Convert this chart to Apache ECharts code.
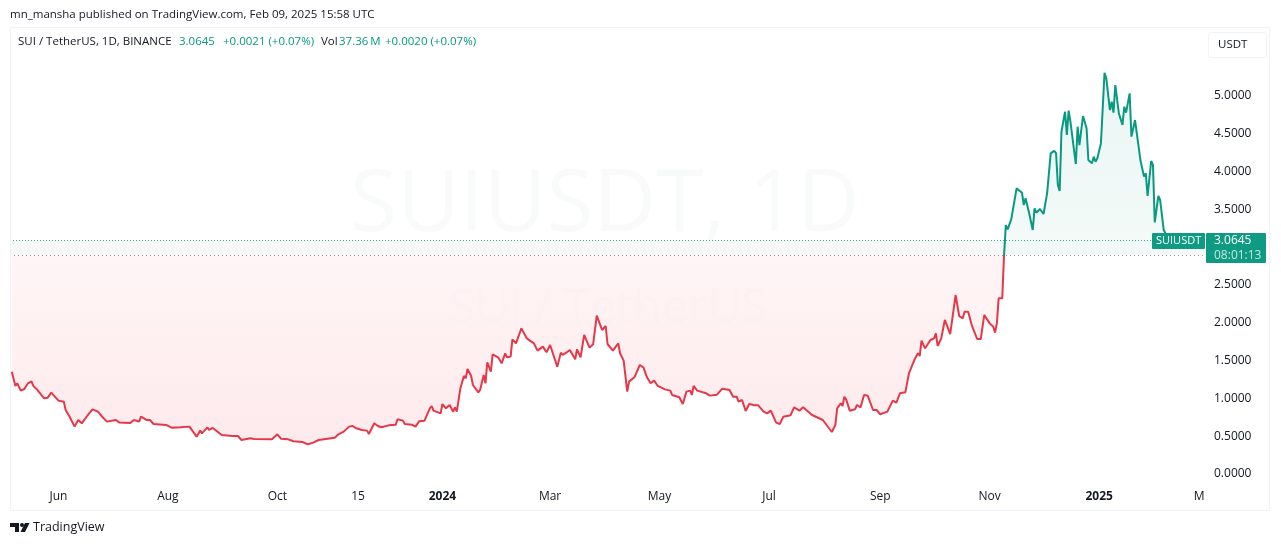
<!DOCTYPE html>
<html>
<head>
<meta charset="utf-8">
<title>SUIUSDT 1D</title>
<script src="https://cdn.jsdelivr.net/npm/echarts@6/dist/echarts.min.js"></script>
<style>
  html, body { margin: 0; padding: 0; background: #fff; }
  #chart { width: 1281px; height: 545px; }
</style>
</head>
<body>
<div id="chart"></div>
<script>
// x axis is in days counted from the left edge of the chart (2023-05-05)
const firstDay = Date.UTC(2023, 4, 5);
const lastDay = '2025-03-01';

const redDays = [
  1, 3, 4, 6, 8, 10, 12, 13, 15, 19, 21, 23, 27, 30, 31, 33, 34, 36, 38, 40,
  43, 44, 46, 49, 51, 54, 59, 61, 67, 69, 72, 73, 76, 78, 80, 87, 90, 95, 100, 104,
  106, 107, 110, 111, 113, 118, 124, 127, 129, 134, 136, 146, 149, 151, 155, 158, 163, 166, 169, 172,
  176, 177, 181, 183, 186, 189, 191, 193, 194, 196, 199, 200, 203, 205, 207, 211, 215, 216, 219, 220,
  224, 226, 228, 231, 232, 234,
  235, 236, 240, 241, 243, 245, 247, 248, 249, 251, 253, 254, 255, 257, 258, 261, 262, 264, 265, 266,
  268, 269, 272, 274, 276, 277, 279, 280, 282, 285, 288, 289, 292, 293, 294, 297, 299, 301, 305, 307,
  308, 310, 312, 315, 316, 318, 320, 323, 325, 327, 330, 332, 333, 336, 339, 340, 342, 344, 345, 346,
  348, 349, 351, 353, 355, 357, 359, 361, 365, 368, 369, 373, 375, 377, 379, 380, 381, 383, 388, 390,
  394, 397, 401, 403, 405, 406, 408, 410, 412, 415, 417, 420, 422, 424, 427, 428, 429, 431, 435, 437,
  440, 442, 447, 448, 453, 458, 460, 461, 463, 464, 465, 466, 468, 471, 472, 474,
  476, 478, 481, 483, 485, 489, 492, 494, 496, 499, 501, 504, 506, 507, 508, 510, 513, 515, 516, 517,
  519, 521, 524, 527, 529, 531, 532, 534, 536, 537, 539, 541, 543, 544, 546, 548, 549, 550, 551, 553, 554
];
const redCloses = [
  1.327, 1.138, 1.173, 1.076, 1.098, 1.173, 1.199, 1.138, 1.093, 0.974, 0.983, 1.049, 0.944, 0.930, 0.820, 0.741, 0.723, 0.600, 0.688, 0.644,
  0.741, 0.723, 0.829, 0.798, 0.741, 0.666, 0.688, 0.653, 0.648, 0.688, 0.666, 0.732, 0.688, 0.688, 0.635, 0.622, 0.586, 0.591, 0.600, 0.467,
  0.547, 0.511, 0.591, 0.556, 0.582, 0.489, 0.476, 0.476, 0.423, 0.445, 0.437, 0.432, 0.498, 0.441, 0.432, 0.406, 0.397, 0.366, 0.388, 0.423,
  0.437, 0.459, 0.454, 0.498, 0.534, 0.600, 0.608, 0.578, 0.600, 0.556, 0.547, 0.503, 0.644, 0.608, 0.591, 0.617, 0.626, 0.697, 0.679, 0.635,
  0.626, 0.600, 0.670, 0.679, 0.732, 0.842,
  0.873, 0.811, 0.776, 0.899, 0.842, 0.886, 0.798, 0.855, 0.798, 1.107, 1.270, 1.239, 1.362, 1.270, 1.151, 1.054, 1.085, 1.283, 1.173, 1.451,
  1.327, 1.556, 1.517, 1.437, 1.570, 1.517, 1.526, 1.755, 1.702, 1.900, 1.768, 1.790, 1.702, 1.702, 1.605, 1.658, 1.583, 1.680, 1.393, 1.578,
  1.548, 1.578, 1.614, 1.490, 1.623, 1.517, 1.812, 1.645, 1.689, 2.068, 1.878, 1.931, 1.693, 1.605, 1.702, 1.570, 1.473, 1.063, 1.195, 1.173,
  1.252, 1.261, 1.415, 1.384, 1.252, 1.173, 1.208, 1.138, 1.093, 1.076, 1.019, 0.988, 0.899, 1.063, 1.076, 1.019, 1.138, 1.076, 1.041, 1.010,
  1.023, 1.102, 1.085, 0.996, 0.996, 0.930, 0.952, 0.807, 0.899, 0.882, 0.882, 0.798, 0.776, 0.811, 0.653, 0.666, 0.635, 0.732, 0.750, 0.855,
  0.811, 0.855, 0.754, 0.776, 0.688, 0.529, 0.622, 0.842, 0.908, 0.873, 0.996, 0.961, 0.811, 0.829, 0.886, 0.855,
  1.019, 1.010, 0.820, 0.820, 0.763, 0.798, 0.944, 0.917, 1.041, 1.054, 1.305, 1.481, 1.570, 1.534, 1.737, 1.636, 1.746, 1.768, 1.834, 1.667,
  1.768, 2.011, 1.825, 2.341, 2.063, 2.033, 2.121, 2.121, 1.944, 1.966, 1.759, 1.759, 2.077, 2.063, 1.966, 1.922, 1.843, 1.966, 2.297, 2.297, 2.87
];

const greenDays = [
  554, 555, 556, 558, 561, 562, 564, 565, 566, 568, 570, 571, 572, 574, 576, 578, 579, 580, 582, 583,
  584, 585, 586, 588, 589, 590, 591, 592, 594, 595, 596, 598, 600, 601, 603, 604, 605, 606, 608, 610,
  611, 613, 614, 615, 616, 618, 620, 621, 622, 624, 625, 627, 629, 630, 632, 633, 634, 636, 637, 638,
  640, 641, 643, 646
];
const greenCloses = [
  2.87, 3.267, 3.210, 3.342, 3.752, 3.774, 3.695, 3.532, 3.620, 3.422, 3.201, 3.488, 3.430, 3.479, 3.413, 3.686, 3.695, 4.215, 4.250, 4.215,
  3.796, 3.717, 4.501, 4.766, 4.458, 4.780, 4.634, 4.612, 4.074, 4.568, 4.325, 4.709, 4.546, 4.127, 4.083, 4.171, 4.105, 4.149, 4.347, 5.282,
  5.207, 4.788, 4.898, 4.753, 5.119, 4.744, 4.590, 4.832, 4.753, 5.009, 4.436, 4.656, 4.303, 4.127, 3.907, 3.951, 3.651, 4.114, 4.061, 3.302,
  3.651, 3.598, 3.201, 3.0645
];

const baseValue = 2.87;
const lastClose = 3.0645;

const priceTicks = [0, 0.5, 1, 1.5, 2, 2.5, 3.5, 4, 4.5, 5];
const timeTickDates = ['2023-06-01', '2023-08-01', '2023-10-01', '2023-11-15', '2024-01-01', '2024-03-01',
  '2024-05-01', '2024-07-01', '2024-09-01', '2024-11-01', '2025-01-01', '2025-03-01'];
const timeTickLabels = ['Jun', 'Aug', 'Oct', '15', '2024', 'Mar', 'May', 'Jul', 'Sep', 'Nov', '2025', 'Mar'];

const fontName = '"Open Sans", sans-serif';
const textColor = '#131722';
const greenColor = '#089981';
const redColor = '#e5384a';

function dayOf(dateText) {
  return Math.round((Date.parse(dateText) - firstDay) / 86400000);
}

function toPoints(days, closes) {
  return days.map((d, i) => [d, closes[i]]);
}

const tickDays = timeTickDates.map(dayOf);

function label(x, y, text, color, size, z) {
  return {
    type: 'text', x: x, y: y, z: z || 60, silent: true,
    style: { text: text, fill: color, font: size + 'px ' + fontName, textVerticalAlign: 'middle' }
  };
}

const chart = echarts.init(document.getElementById('chart'), null, { renderer: 'canvas' });

chart.setOption({
  animation: false,
  backgroundColor: '#ffffff',
  grid: { left: 10, top: 34, width: 1195, height: 450 },
  xAxis: {
    type: 'value',
    min: 0,
    max: dayOf(lastDay),
    axisLine: { show: false },
    axisTick: { show: false },
    splitLine: { show: false },
    axisLabel: {
      customValues: tickDays,
      hideOverlap: false,
      margin: 7,
      color: textColor,
      fontFamily: fontName,
      fontSize: 12,
      formatter: function (value) {
        const text = timeTickLabels[tickDays.indexOf(value)];
        return text === '2024' || text === '2025' ? '{year|' + text + '}' : text;
      },
      rich: { year: { fontWeight: 'bold', fontFamily: fontName, fontSize: 12, color: textColor } }
    }
  },
  yAxis: {
    type: 'value',
    position: 'right',
    min: -0.159,
    max: 5.794,
    axisLine: { show: false },
    axisTick: { show: false },
    splitLine: { show: false },
    axisLabel: {
      customValues: priceTicks,
      margin: 9,
      color: textColor,
      fontFamily: fontName,
      fontSize: 12,
      formatter: v => '{price|' + v.toFixed(4) + '}',
      rich: { price: { fontFamily: fontName, fontSize: 12, color: textColor, padding: [4, 0, 0, 0] } }
    }
  },
  series: [
    {
      name: 'below base',
      type: 'line',
      data: toPoints(redDays, redCloses),
      showSymbol: false,
      lineStyle: { color: redColor, width: 2 },
      itemStyle: { color: redColor },
      areaStyle: {
        origin: baseValue,
        color: new echarts.graphic.LinearGradient(0, 0, 0, 1, [
          { offset: 0, color: '#fff1f2' },
          { offset: 1, color: '#fde1e4' }
        ])
      },
      markArea: {
        silent: true,
        itemStyle: { color: '#f7f9f9' },
        data: [[{ yAxis: baseValue }, { yAxis: lastClose }]]
      },
      z: 3
    },
    {
      name: 'above base',
      type: 'line',
      data: toPoints(greenDays, greenCloses),
      showSymbol: false,
      lineStyle: { color: greenColor, width: 2 },
      itemStyle: { color: greenColor },
      areaStyle: {
        origin: baseValue,
        color: new echarts.graphic.LinearGradient(0, 0, 0, 1, [
          { offset: 0, color: '#e0f2ee' },
          { offset: 1, color: '#eff8f6' }
        ])
      },
      markLine: {
        silent: true,
        symbol: 'none',
        label: { show: false },
        data: [
          { yAxis: lastClose, lineStyle: { color: greenColor, type: [1, 2], width: 1, opacity: 0.8 } },
          { yAxis: baseValue, lineStyle: { color: '#9598a1', type: [1, 3], width: 1 } }
        ]
      },
      z: 4
    }
  ],
  graphic: [
    // watermark
    label(350, 206, 'SUIUSDT, 1D', 'rgba(19,23,34,0.025)', 86, 1),
    label(449, 310, 'SUI / TetherUS', 'rgba(19,23,34,0.025)', 47, 1),
    // hides the part of the last time label under the price scale
    { type: 'rect', z: 50, silent: true, shape: { x: 1205, y: 485, width: 64, height: 24 }, style: { fill: '#ffffff' } },
    // frame
    { type: 'rect', z: 51, silent: true, shape: { x: 10.5, y: 27.5, width: 1259, height: 483 }, style: { fill: 'none', stroke: '#f0f3fa' } },
    { type: 'rect', z: 51, silent: true, shape: { x: 1208.5, y: 32.5, width: 58, height: 25, r: 2 }, style: { fill: '#fff', stroke: '#f0f3fa' } },
    label(1218, 45, 'USDT', textColor, 11.5),
    // header
    label(10, 15, 'mn_mansha published on TradingView.com, Feb 09, 2025 15:58 UTC', textColor, 11.5),
    label(18, 42, 'SUI / TetherUS, 1D, BINANCE', textColor, 11.5),
    label(179, 42, '3.0645', greenColor, 11.5),
    label(223, 42, '+0.0021 (+0.07%)', greenColor, 11.5),
    label(321, 42, 'Vol', textColor, 11.5),
    label(339, 42, '37.36\u2009M', greenColor, 11.5),
    label(385, 42, '+0.0020 (+0.07%)', greenColor, 11.5),
    // last price tags
    { type: 'rect', z: 55, silent: true, shape: { x: 1152, y: 233, width: 53, height: 16, r: 1 }, style: { fill: '#0e9a83' } },
    { type: 'rect', z: 55, silent: true, shape: { x: 1206, y: 233, width: 60, height: 30, r: 1 }, style: { fill: '#0e9a83' } },
    label(1156, 241, 'SUIUSDT', '#ffffff', 11),
    label(1214, 241, '3.0645', '#ffffff', 12),
    label(1214, 256, '08:01:13', '#c5e8e1', 12),
    // footer logo
    { type: 'polygon', z: 60, silent: true, shape: { points: [[10, 523], [19, 523], [19, 532], [15, 532], [15, 527], [10, 527]] }, style: { fill: textColor } },
    { type: 'circle', z: 60, silent: true, shape: { cx: 22, cy: 525, r: 2 }, style: { fill: textColor } },
    { type: 'polygon', z: 60, silent: true, shape: { points: [[25, 523], [29.5, 523], [25, 532], [20.5, 532]] }, style: { fill: textColor } },
    label(33, 527, 'TradingView', textColor, 12.5)
  ]
});
</script>
</body>
</html>
